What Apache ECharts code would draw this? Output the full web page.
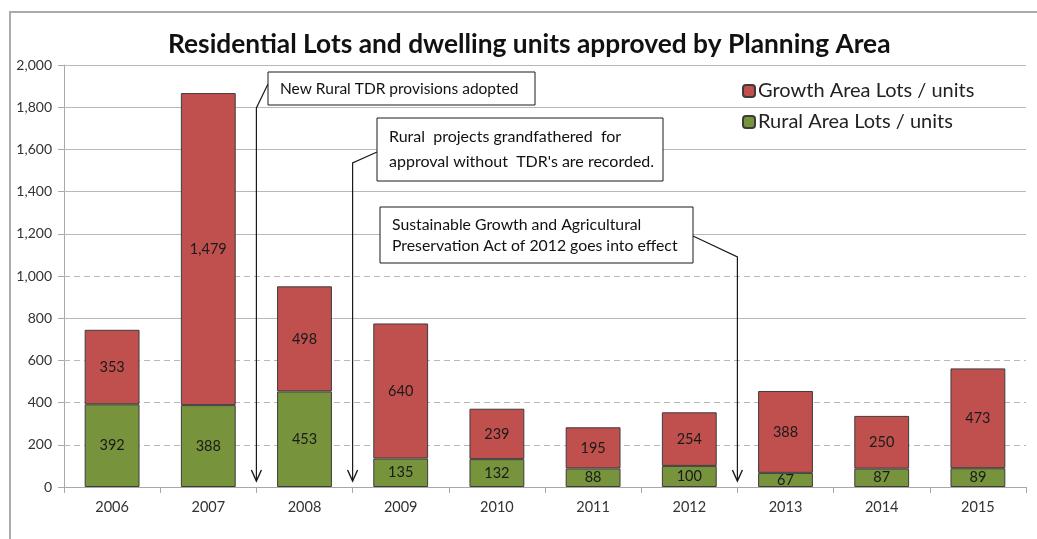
<!DOCTYPE html>
<html>
<head>
<meta charset="utf-8">
<script src="https://cdn.jsdelivr.net/npm/echarts@6/dist/echarts.min.js"></script>
<style>
  html, body { margin: 0; padding: 0; background: #fff; }
  #chart { width: 1037px; height: 539px; }
</style>
</head>
<body>
<div id="chart"></div>
<script>
// Approvals per year, split by planning area
const years = ['2006', '2007', '2008', '2009', '2010', '2011', '2012', '2013', '2014', '2015'];
const ruralLots = [392, 388, 453, 135, 132, 88, 100, 67, 87, 89];
const growthLots = [353, 1479, 498, 640, 239, 195, 254, 388, 250, 473];

// Horizontal reference lines: some solid, some dashed
const solidLevels = [800, 1200, 1400, 1600, 1800, 2000];
const dashedLevels = [200, 400, 600, 1000];

// Policy milestones: the arrow sits on the boundary after this category index
const notes = [
  { after: 1, lines: ['New Rural TDR provisions adopted'] },
  { after: 2, lines: ['Rural  projects grandfathered  for', "approval without  TDR's are recorded."] },
  { after: 6, lines: ['Sustainable Growth and Agricultural', 'Preservation Act of 2012 goes into effect'] }
];

const FONT = 'Lato, "Open Sans", sans-serif';
const fmt = v => v.toLocaleString('en-US');

const chart = echarts.init(document.getElementById('chart'));

const gridLines = solidLevels.map(v => ({ yAxis: v, lineStyle: { type: 'solid', color: '#b8b8b8' } }))
  .concat(dashedLevels.map(v => ({ yAxis: v, lineStyle: { type: [6, 4], color: '#b8b8b8' } })));

chart.setOption({
  animation: false,
  backgroundColor: '#fff',
  title: {
    text: 'Residential Lots and dwelling units approved by Planning Area',
    left: 163,
    top: 27,
    textStyle: { fontFamily: FONT, fontWeight: 'bold', fontSize: 26.3, color: '#111' }
  },
  legend: {
    orient: 'vertical',
    left: 737,
    top: 76,
    itemWidth: 12,
    itemHeight: 12,
    itemGap: 11,
    data: ['Growth Area Lots / units', 'Rural Area Lots / units'],
    textStyle: { fontFamily: FONT, fontSize: 20, color: '#222', padding: [0, 0, 0, -2] }
  },
  grid: { left: 64, right: 11, top: 65, bottom: 52, containLabel: false },
  xAxis: {
    type: 'category',
    data: years,
    axisLine: { lineStyle: { color: '#a8a8a8', width: 1 } },
    axisTick: { show: true, length: 6, lineStyle: { color: '#a8a8a8' } },
    axisLabel: { fontFamily: FONT, fontSize: 14.5, color: '#333', margin: 13 },
    splitLine: { show: false }
  },
  yAxis: {
    type: 'value',
    min: 0,
    max: 2000,
    interval: 200,
    axisLine: { show: true, lineStyle: { color: '#a8a8a8', width: 1 } },
    axisTick: { show: true, length: 6, lineStyle: { color: '#a8a8a8' } },
    axisLabel: { fontFamily: FONT, fontSize: 14, color: '#333', margin: 12, formatter: v => fmt(v) },
    splitLine: { show: false }
  },
  series: [
    {
      name: 'Rural Area Lots / units',
      type: 'bar',
      stack: 'lots',
      barWidth: '57%',
      data: ruralLots,
      itemStyle: { color: '#77933C', borderColor: '#3c3c3c', borderWidth: 1 },
      label: {
        show: true, position: 'inside', formatter: p => fmt(p.value),
        fontFamily: FONT, fontSize: 14.5, color: '#1a1a1a'
      },
      markLine: {
        silent: true,
        z: 1,
        symbol: ['none', 'none'],
        label: { show: false },
        lineStyle: { width: 1 },
        data: gridLines
      },
      z: 3
    },
    {
      name: 'Growth Area Lots / units',
      type: 'bar',
      stack: 'lots',
      barWidth: '57%',
      data: growthLots,
      itemStyle: { color: '#C0504D', borderColor: '#3c3c3c', borderWidth: 1 },
      label: {
        show: true, position: 'inside', formatter: p => fmt(p.value),
        fontFamily: FONT, fontSize: 14.5, color: '#1a1a1a'
      },
      z: 3
    }
  ]
});

// Callout boxes and their leader arrows, placed on category boundaries
const boxes = [
  { x: 268, y: 72, w: 267, h: 33, side: 'left', ay: 84, bend: 108, fs: 15.5 },
  { x: 377, y: 118, w: 286, h: 63, side: 'left', ay: 152, bend: 163, fs: 16 },
  { x: 380, y: 207, w: 313, h: 56, side: 'right', ay: 236, bend: 257, fs: 15.8 }
];

function drawNotes() {
  const center = i => chart.convertToPixel({ xAxisIndex: 0 }, i);
  const baseY = chart.convertToPixel({ yAxisIndex: 0 }, 0);
  const elements = [
    // frame around the chart
    { type: 'polyline', shape: { points: [[10, 539], [10, 12], [1037, 12]] },
      style: { stroke: '#ababab', lineWidth: 2, fill: null }, z: 0 }
  ];
  notes.forEach((n, k) => {
    const b = boxes[k];
    const ax = (center(n.after) + center(n.after + 1)) / 2;
    const startX = b.side === 'left' ? b.x : b.x + b.w;
    const tipY = baseY - 6;
    elements.push({
      type: 'polyline',
      shape: { points: [[startX, b.ay], [ax, b.bend], [ax, tipY]] },
      style: { stroke: '#1a1a1a', lineWidth: 1.2, fill: null },
      z: 10
    });
    elements.push({
      type: 'polyline',
      shape: { points: [[ax - 5, tipY - 11], [ax, tipY], [ax + 5, tipY - 11]] },
      style: { stroke: '#1a1a1a', lineWidth: 1.4, fill: null },
      z: 10
    });
    elements.push({
      type: 'rect',
      shape: { x: b.x, y: b.y, width: b.w, height: b.h },
      style: { fill: '#fff', stroke: '#1a1a1a', lineWidth: 1 },
      z: 11
    });
    const lh = n.lines.length === 1 ? 0 : (b.h - 14) / n.lines.length;
    n.lines.forEach((t, j) => {
      const cy = n.lines.length === 1 ? b.y + b.h / 2 : b.y + 7 + lh * (j + 0.5);
      elements.push({
        type: 'text',
        x: b.x + 12,
        y: cy,
        style: { text: t, fontFamily: FONT, fontSize: b.fs, fill: '#111', textVerticalAlign: 'middle', verticalAlign: 'middle' },
        z: 12
      });
    });
  });
  chart.setOption({ graphic: { elements } });
}
drawNotes();
</script>
</body>
</html>
